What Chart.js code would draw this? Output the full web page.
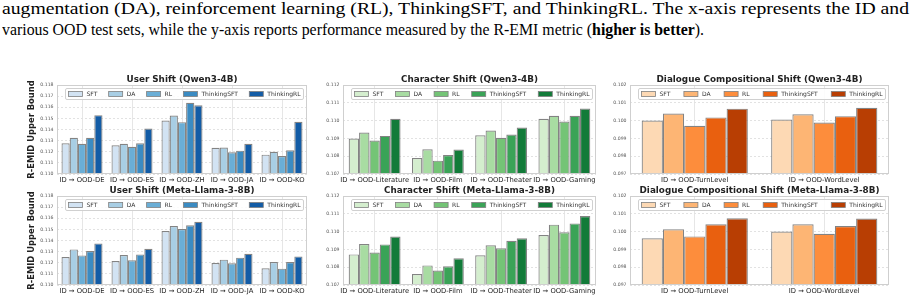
<!DOCTYPE html>
<html>
<head>
<meta charset="utf-8">
<script src="https://cdn.jsdelivr.net/npm/chart.js@4"></script>
<style>
body { margin: 0; width: 920px; height: 301px; overflow: hidden; background: #fff; position: relative; }
.cap { position: absolute; left: 2px; font-family: "Liberation Serif", serif; font-size: 17px; line-height: 21px; color: #000; white-space: nowrap; transform-origin: 0 0; }
#cap1 { top: -2px; }
#cap2 { top: 19px; }
canvas { position: absolute; }
</style>
</head>
<body>
<div class="cap" id="cap1">augmentation (DA), reinforcement learning (RL), ThinkingSFT, and ThinkingRL. The x-axis represents the ID and</div>
<div class="cap" id="cap2">various OOD test sets, while the y-axis reports performance measured by the R-EMI metric (<b>higher is better</b>).</div>

<canvas id="c1" width="310" height="118" style="left:0px;top:68px"></canvas>
<canvas id="c2" width="300" height="118" style="left:310px;top:68px"></canvas>
<canvas id="c3" width="310" height="118" style="left:610px;top:68px"></canvas>
<canvas id="c4" width="310" height="120" style="left:0px;top:180px"></canvas>
<canvas id="c5" width="300" height="120" style="left:310px;top:180px"></canvas>
<canvas id="c6" width="310" height="120" style="left:610px;top:180px"></canvas>

<script>
// methods and test sets
const methods = ['SFT', 'DA', 'RL', 'ThinkingSFT', 'ThinkingRL'];
const userCats = ['ID → OOD-DE', 'ID → OOD-ES', 'ID → OOD-ZH', 'ID → OOD-JA', 'ID → OOD-KO'];
const charCats = ['ID → OOD-Literature', 'ID → OOD-Film', 'ID → OOD-Theater', 'ID → OOD-Gaming'];
const dialCats = ['ID → OOD-TurnLevel', 'ID → OOD-WordLevel'];

// y tick values
const userTicks = [0.110, 0.111, 0.112, 0.113, 0.114, 0.115, 0.116, 0.117, 0.118];
const charTicks = [0.107, 0.108, 0.109, 0.110, 0.111, 0.112];
const dialTicks = [0.097, 0.098, 0.099, 0.100, 0.101, 0.102];

// rows: SFT, DA, RL, ThinkingSFT, ThinkingRL
const userQwen = [
    [0.11277, 0.11259, 0.11481, 0.11235, 0.11174],
    [0.11325, 0.11271, 0.11526, 0.11238, 0.11200],
    [0.11271, 0.11244, 0.11466, 0.11195, 0.11162],
    [0.11325, 0.11277, 0.11641, 0.11210, 0.11214],
    [0.11529, 0.11409, 0.11617, 0.11271, 0.11469]
];
const charQwen = [
    [0.10899, 0.10790, 0.10918, 0.11010],
    [0.10933, 0.10839, 0.10944, 0.11027],
    [0.10888, 0.10775, 0.10903, 0.10995],
    [0.10914, 0.10807, 0.10922, 0.11027],
    [0.11010, 0.10837, 0.10961, 0.11068]
];
const dialQwen = [
    [0.10000, 0.10006],
    [0.10040, 0.10036],
    [0.09971, 0.09989],
    [0.10018, 0.10025],
    [0.10067, 0.10072]
];
const userLlama = [
    [0.11251, 0.11216, 0.11485, 0.11198, 0.11150],
    [0.11320, 0.11269, 0.11530, 0.11228, 0.11207],
    [0.11266, 0.11222, 0.11503, 0.11195, 0.11147],
    [0.11305, 0.11275, 0.11536, 0.11246, 0.11207],
    [0.11374, 0.11326, 0.11569, 0.11281, 0.11257]
];
const charLlama = [
    [0.10872, 0.10762, 0.10867, 0.10981],
    [0.10930, 0.10810, 0.10923, 0.11039],
    [0.10882, 0.10781, 0.10906, 0.10996],
    [0.10928, 0.10805, 0.10949, 0.11046],
    [0.10972, 0.10850, 0.10962, 0.11088]
];
const dialLlama = [
    [0.09962, 0.10000],
    [0.10013, 0.10041],
    [0.09973, 0.09988],
    [0.10041, 0.10031],
    [0.10075, 0.10073]
];

const blues = ['#d2e3f3', '#a8cee4', '#6aaed6', '#3b8bc2', '#135ca6'];
const greens = ['#d4eece', '#a8dca2', '#74c476', '#3aa357', '#127b39'];
const oranges = ['#fdd9b4', '#fdb574', '#fd8d3c', '#e9600f', '#b83e03'];

// fit each caption line to the width it has in the picture
function fitLine(id, target) {
    const el = document.getElementById(id);
    el.style.transform = 'scaleX(' + (target / el.getBoundingClientRect().width) + ')';
}
fitLine('cap1', 907);
fitLine('cap2', 702);

// draws title, frame and the matplotlib-like legend inside the plot
const decor = {
    id: 'decor',
    afterDraw(chart) {
        const c = chart.ctx, a = chart.chartArea, o = chart.options.plugins.decor;
        c.save();
        c.strokeStyle = '#cfcfcf';
        c.lineWidth = 1;
        c.strokeRect(a.left + 0.5, a.top + 0.5, a.right - a.left - 1, a.bottom - a.top - 1);
        c.fillStyle = '#222';
        c.font = 'bold 8.8px "DejaVu Sans"';
        c.textAlign = 'center';
        c.textBaseline = 'middle';
        c.fillText(o.title, (a.left + a.right) / 2, a.top - 5);

        // legend
        const bx = a.left + 8, by = a.top + 3, bw = a.right - a.left - 12, bh = 11;
        c.fillStyle = 'rgba(255,255,255,0.85)';
        c.strokeStyle = '#d0d0d0';
        c.beginPath();
        c.roundRect(bx + 0.5, by + 0.5, bw, bh, 1.5);
        c.fill();
        c.stroke();
        c.font = '6px "DejaVu Sans"';
        c.textAlign = 'left';
        const sw = 14, gap = 4;
        const ds = chart.data.datasets;
        const widths = ds.map(d => sw + gap + c.measureText(d.label).width);
        const total = widths.reduce((s, w) => s + w, 0);
        const sep = (bw - 6 - total) / (ds.length - 1);
        let x = bx + 3.5;
        const cy = by + bh / 2 + 0.5;
        ds.forEach((d, i) => {
            c.fillStyle = d.backgroundColor;
            c.fillRect(x, cy - 2.5, sw, 5);
            c.strokeStyle = '#808080';
            c.lineWidth = 0.8;
            c.strokeRect(x, cy - 2.5, sw, 5);
            c.fillStyle = '#333';
            c.fillText(d.label, x + sw + gap, cy + 0.3);
            x += widths[i] + sep;
        });
        c.restore();
    }
};

function makePanel(id, title, cats, values, ticks, colors, geo) {
    new Chart(document.getElementById(id), {
        type: 'bar',
        data: {
            labels: cats,
            datasets: methods.map((m, i) => ({
                label: m,
                data: values[i],
                backgroundColor: colors[i],
                borderColor: '#838383',
                borderWidth: 1.2,
                borderSkipped: false,
                categoryPercentage: 0.82,
                barPercentage: 1,
                clip: 0
            }))
        },
        options: {
            responsive: false,
            animation: false,
            events: [],
            layout: { padding: { top: geo.padT, right: geo.padR, left: 0, bottom: 0 } },
            plugins: {
                legend: { display: false },
                tooltip: { enabled: false },
                decor: { title: title }
            },
            scales: {
                x: {
                    afterFit: s => { s.height = geo.xh; },
                    grid: { offset: false, color: '#e6e6e6', drawTicks: false },
                    border: { display: false },
                    ticks: {
                        autoSkip: false, maxRotation: 0, padding: 2.5,
                        color: '#222', font: { family: 'DejaVu Sans', size: 6.8 }
                    }
                },
                y: {
                    min: ticks[0],
                    max: ticks[ticks.length - 1],
                    afterFit: s => { s.width = geo.yw; },
                    afterBuildTicks: s => { s.ticks = ticks.map(v => ({ value: v })); },
                    grid: { color: '#e2e2e2', drawTicks: false },
                    border: { display: false, dash: [2, 2] },
                    title: {
                        display: !!geo.ytitle, text: 'R-EMID Upper Bound', color: '#222',
                        font: { family: 'DejaVu Sans', size: 8.4, weight: 'bold' },
                        padding: { top: 27, bottom: 0 }
                    },
                    ticks: {
                        padding: 3.5, color: '#555',
                        font: { family: 'DejaVu Sans', size: 4.6 },
                        callback: v => v.toFixed(3)
                    }
                }
            }
        },
        plugins: [decor]
    });
}

makePanel('c1', 'User Shift (Qwen3-4B)', userCats, userQwen, userTicks, blues,
    { padT: 17, padR: 3, xh: 12, yw: 57, ytitle: true });
makePanel('c2', 'Character Shift (Qwen3-4B)', charCats, charQwen, charTicks, greens,
    { padT: 17, padR: 14, xh: 12, yw: 33 });
makePanel('c3', 'Dialogue Compositional Shift (Qwen3-4B)', dialCats, dialQwen, dialTicks, oranges,
    { padT: 17, padR: 31, xh: 12, yw: 20 });
makePanel('c4', 'User Shift (Meta-Llama-3-8B)', userCats, userLlama, userTicks, blues,
    { padT: 16, padR: 3, xh: 15, yw: 57, ytitle: true });
makePanel('c5', 'Character Shift (Meta-Llama-3-8B)', charCats, charLlama, charTicks, greens,
    { padT: 16, padR: 14, xh: 15, yw: 33 });
makePanel('c6', 'Dialogue Compositional Shift (Meta-Llama-3-8B)', dialCats, dialLlama, dialTicks, oranges,
    { padT: 16, padR: 31, xh: 15, yw: 20 });
</script>
</body>
</html>
